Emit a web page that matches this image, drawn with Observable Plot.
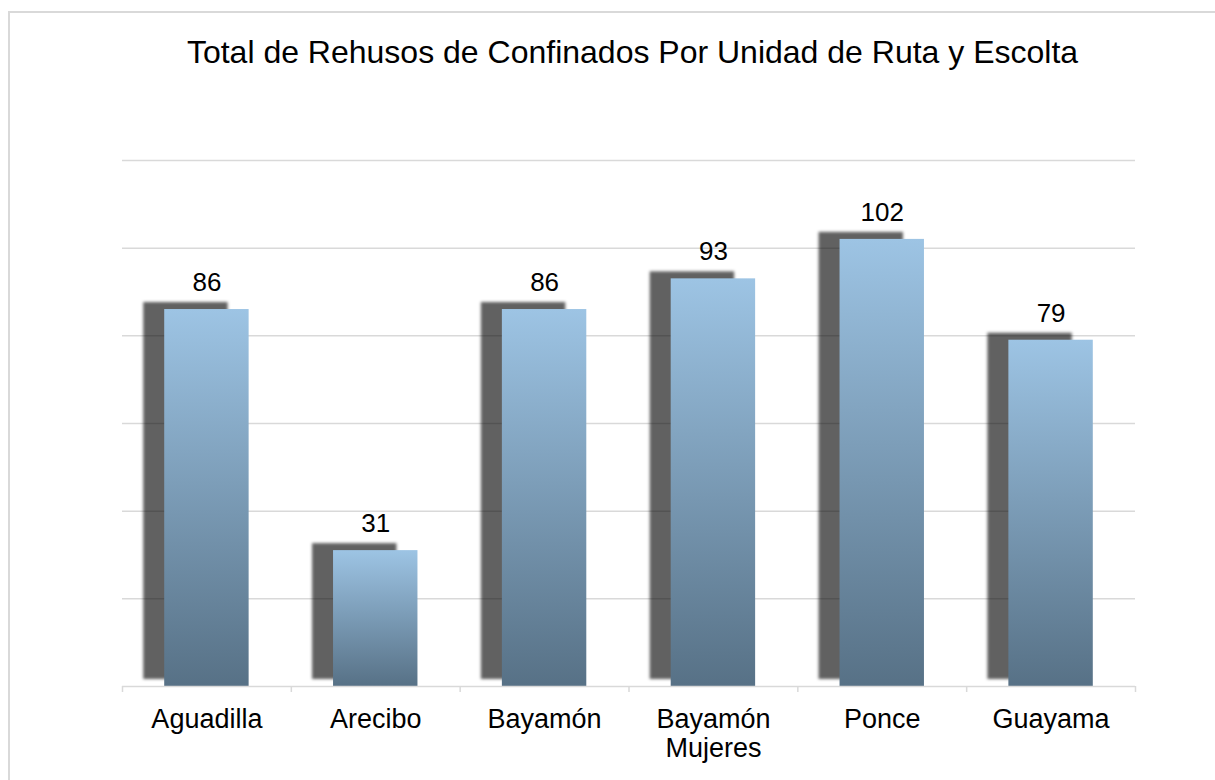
<!DOCTYPE html>
<html>
<head>
<meta charset="utf-8">
<script src="https://cdn.jsdelivr.net/npm/d3@7"></script>
<script src="https://cdn.jsdelivr.net/npm/@observablehq/plot@0.6"></script>
<style>
  html, body { margin: 0; padding: 0; background: #fff; overflow: hidden; }
  body { width: 1215px; height: 780px; position: relative; }
  .frame {
    position: absolute; left: 8px; top: 11px;
    width: 1205px; height: 767px;
    border-left: 2px solid #d9d9d9; border-top: 2px solid #d9d9d9;
    font-family: "Liberation Sans", Arial, sans-serif;
  }
  .title {
    box-sizing: border-box;
    height: 60px; padding: 24px 0 0 40px;
    font-size: 32px; line-height: 30px; text-align: center;
    white-space: nowrap; color: #000;
  }
  #chart svg { display: block; }
</style>
</head>
<body>
<div class="frame">
  <div class="title">Total de Rehusos de Confinados Por Unidad de Ruta y Escolta</div>
  <div id="chart"></div>
</div>
<script>
const categories = ["Aguadilla", "Arecibo", "Bayamón", "Bayamón\nMujeres", "Ponce", "Guayama"];
const values = [86, 31, 86, 93, 102, 79];
const gridTicks = [20, 40, 60, 80, 100, 120];

const data = categories.map((c, i) => ({cat: c, value: values[i]}));

const W = 1205, H = 707, ML = 112, MR = 80, MT = 87, MB = 94;
const step = (W - ML - MR) / categories.length;

const defs = d3.create("svg:defs");
const grad = defs.append("linearGradient")
  .attr("id", "barGrad").attr("x1", 0).attr("y1", 0).attr("x2", 0).attr("y2", 1);
grad.append("stop").attr("offset", "0%").attr("stop-color", "#9dc4e4");
grad.append("stop").attr("offset", "100%").attr("stop-color", "#577186");
defs.append("filter").attr("id", "shadowBlur")
  .attr("x", "-10%").attr("y", "-10%").attr("width", "120%").attr("height", "120%")
  .append("feGaussianBlur").attr("stdDeviation", 1.4);

const chart = Plot.plot({
  width: W, height: H,
  marginLeft: ML, marginRight: MR, marginTop: MT, marginBottom: MB,
  x: {domain: categories, paddingInner: 0.5, paddingOuter: 0.25, round: false, label: null},
  y: {domain: [0, 120], axis: null},
  style: {fontFamily: "'Liberation Sans', Arial, sans-serif", color: "#000", background: "transparent"},
  marks: [
    () => defs.node(),
    Plot.ruleY(gridTicks, {stroke: "#d9d9d9", strokeWidth: 1.5}),
    Plot.barY(data, {x: "cat", y: "value", fill: "#000", fillOpacity: 0.62, dx: -21, dy: -7}),
    Plot.barY(data, {x: "cat", y: "value", fill: "url(#barGrad)"}),
    Plot.ruleY([0], {stroke: "#d9d9d9", strokeWidth: 1.5}),
    Plot.axisX({tickSize: 6, tickFormat: () => "", dx: -step / 2, stroke: "#d9d9d9", strokeWidth: 1.5, label: null}),
    Plot.axisX([categories[categories.length - 1]], {tickSize: 6, tickFormat: () => "", dx: step / 2, stroke: "#d9d9d9", strokeWidth: 1.5, label: null}),
    Plot.axisX({tickSize: 0, tickPadding: 22, fontSize: 27, lineHeight: 1.04, label: null}),
    Plot.text(data, {x: "cat", y: "value", text: d => String(d.value), dy: -27, fontSize: 26, fill: "#000"})
  ]
});

d3.select(chart).select('g[aria-label="bar"]').attr("filter", "url(#shadowBlur)");
document.getElementById("chart").appendChild(chart);
</script>
</body>
</html>
